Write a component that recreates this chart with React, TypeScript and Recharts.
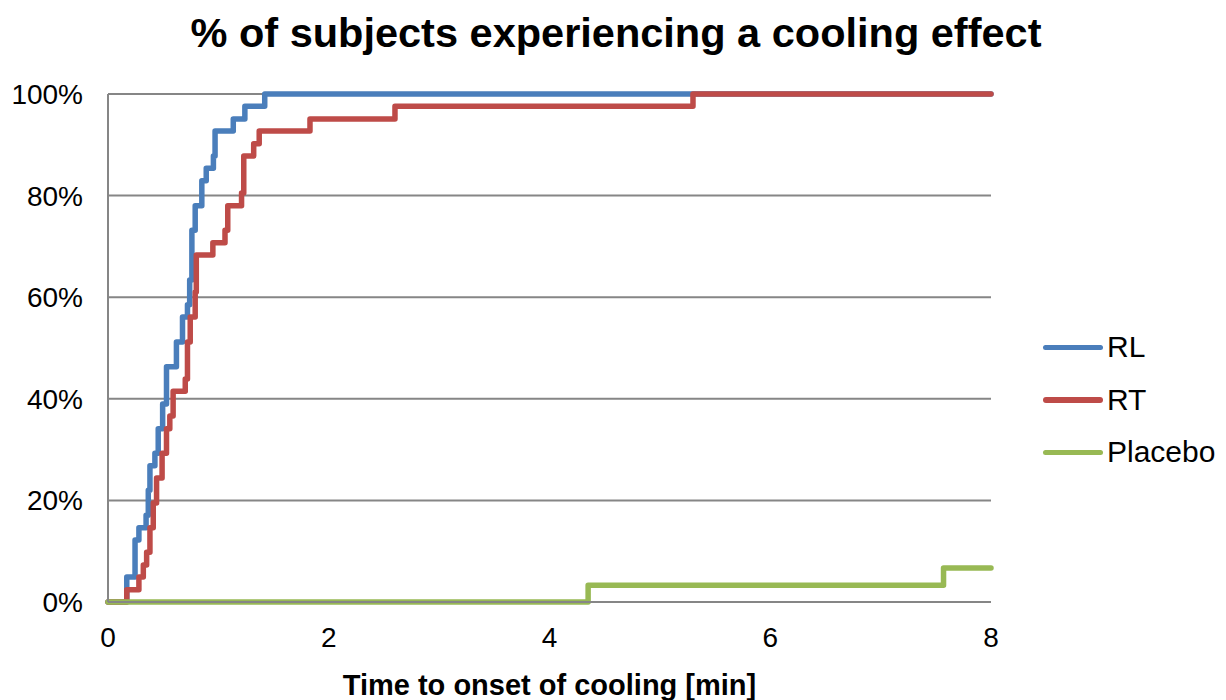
import React from "react";
import { LineChart, Line, XAxis, YAxis, CartesianGrid, Label } from "recharts";

// time to onset [min] and cumulative % of subjects
const rlTimes = [0, 0.17, 0.245, 0.28, 0.345, 0.365, 0.38, 0.425, 0.455, 0.495, 0.53, 0.62, 0.675, 0.72, 0.74, 0.76, 0.79, 0.85, 0.89, 0.955, 0.97, 1.135, 1.24, 1.42, 8];
const rlValues = [0, 4.9, 12.2, 14.6, 17.1, 22.0, 26.8, 29.3, 34.1, 39.0, 46.3, 51.2, 56.1, 58.5, 63.4, 73.2, 78.0, 82.9, 85.4, 87.8, 92.7, 95.1, 97.6, 100, 100];

const rtTimes = [0, 0.17, 0.28, 0.32, 0.35, 0.38, 0.41, 0.44, 0.49, 0.53, 0.56, 0.59, 0.7, 0.72, 0.745, 0.79, 0.8, 0.95, 1.06, 1.085, 1.21, 1.23, 1.32, 1.37, 1.83, 2.6, 5.3, 8];
const rtValues = [0, 2.4, 4.9, 7.3, 9.8, 14.6, 19.5, 24.4, 29.3, 34.1, 36.6, 41.5, 43.9, 51.2, 56.1, 61.0, 68.3, 70.7, 73.2, 78.0, 80.5, 87.8, 90.2, 92.7, 95.1, 97.6, 100, 100];

const placeboTimes = [0, 4.35, 7.57, 8];
const placeboValues = [0, 3.3, 6.7, 6.7];

const xTicks = [0, 2, 4, 6, 8];
const yTicks = [0, 20, 40, 60, 80, 100];

const series = [
  { name: "RL", color: "#4A7EBB", times: rlTimes, values: rlValues },
  { name: "RT", color: "#BE4B48", times: rtTimes, values: rtValues },
  { name: "Placebo", color: "#98B954", times: placeboTimes, values: placeboValues },
];

const toPoints = (times: number[], values: number[]) =>
  times.map((t, i) => ({ t, v: values[i] }));

const FONT = "'Liberation Sans', Arial, sans-serif";

export default function App() {
  return (
    <div
      style={{
        position: "absolute",
        left: 0,
        top: 0,
        width: 1226,
        height: 700,
        background: "#fff",
        fontFamily: FONT,
      }}
    >
      <div
        style={{
          position: "absolute",
          top: 9,
          left: 0,
          width: 1232,
          textAlign: "center",
          fontSize: 41.5,
          fontWeight: "bold",
          color: "#000",
        }}
      >
        % of subjects experiencing a cooling effect
      </div>
      <LineChart
        width={1226}
        height={700}
        margin={{ top: 94, right: 235, bottom: 0, left: 8 }}
        style={{ position: "absolute", left: 0, top: 0 }}
      >
        <CartesianGrid vertical={false} stroke="#868686" strokeWidth={2} />
        <XAxis
          dataKey="t"
          type="number"
          domain={[0, 8]}
          ticks={xTicks}
          height={98}
          tickLine={false}
          tickSize={0}
          tickMargin={25}
          axisLine={{ stroke: "#868686", strokeWidth: 2 }}
          tick={{ fontSize: 28, fill: "#000", fontFamily: FONT }}
        >
          <Label
            value="Time to onset of cooling [min]"
            position="insideBottom"
            offset={5}
            style={{ fontSize: 29, fontWeight: "bold", fill: "#000", fontFamily: FONT }}
          />
        </XAxis>
        <YAxis
          type="number"
          domain={[0, 100]}
          ticks={yTicks}
          width={100}
          tickLine={false}
          tickSize={0}
          tickMargin={25}
          axisLine={{ stroke: "#868686", strokeWidth: 2 }}
          tickFormatter={(v) => `${v}%`}
          tick={{ fontSize: 28, fill: "#000", fontFamily: FONT }}
        />
        {series.map((s) => (
          <Line
            key={s.name}
            data={toPoints(s.times, s.values)}
            dataKey="v"
            name={s.name}
            type="stepAfter"
            stroke={s.color}
            strokeWidth={5.5}
            strokeLinejoin="round"
            strokeLinecap="round"
            dot={false}
            activeDot={false}
            isAnimationActive={false}
          />
        ))}
      </LineChart>
      <div style={{ position: "absolute", left: 1043, top: 321 }}>
        {series.map((s) => (
          <div
            key={s.name}
            style={{ display: "flex", alignItems: "center", height: 52.5 }}
          >
            <div
              style={{
                width: 60,
                height: 5.5,
                borderRadius: 3,
                background: s.color,
                marginRight: 4,
              }}
            />
            <span style={{ fontSize: 30, color: "#000" }}>{s.name}</span>
          </div>
        ))}
      </div>
    </div>
  );
}
